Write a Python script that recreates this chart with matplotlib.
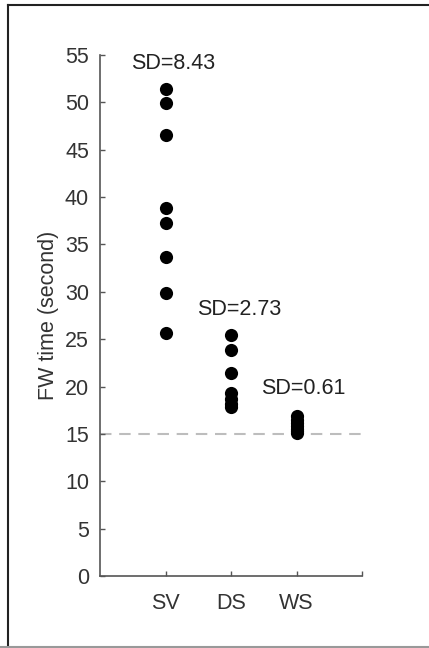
import matplotlib
matplotlib.use("Agg")
import matplotlib.pyplot as plt
from matplotlib.lines import Line2D

plt.rcParams['font.family'] = ['Liberation Sans', 'DejaVu Sans']

# Free-walking time per condition (seconds)
groups = ["SV", "DS", "WS"]
sv_times = [51.4, 49.9, 46.6, 38.9, 37.3, 33.7, 29.9, 25.7]
ds_times = [25.4, 23.9, 21.4, 19.3, 18.7, 18.2, 17.8]
ws_times = [16.9, 16.5, 16.1, 15.8, 15.5, 15.3, 15.1]
sd_labels = ["SD=8.43", "SD=2.73", "SD=0.61"]
reference_time = 15
y_ticks = list(range(0, 60, 5))

W, H = 429, 648
fig = plt.figure(figsize=(W / 100, H / 100), dpi=100)
ax = fig.add_axes([100 / W, (H - 576) / H, 262 / W, 521 / H])

series = [sv_times, ds_times, ws_times]
for i, vals in enumerate(series, start=1):
    ax.scatter([i] * len(vals), vals, s=90, color="black", zorder=3, linewidths=0)

ax.axhline(reference_time, color="#bdbdbd", lw=1.5, dashes=(5.5, 3.7), zorder=1)

# SD annotations above each group
label_pos = [(1.11, 54.1), (2.12, 28.1), (3.11, 19.8)]
for (x, y), txt in zip(label_pos, sd_labels):
    ax.text(x, y, txt, ha="center", va="center", fontsize=15.5, color="#222222")

ax.set_xlim(0, 4)
ax.set_ylim(0, 55)
ax.set_xticks([1, 2, 3, 4])
ax.set_xticklabels(groups + [""])
ax.set_yticks(y_ticks)
ax.tick_params(direction="in", length=3.5, width=1, color="#555555",
               labelsize=15.5, labelcolor="#333333", pad=8)
ax.tick_params(axis="x", pad=12)
for side in ("top", "right"):
    ax.spines[side].set_visible(False)
for side in ("left", "bottom"):
    ax.spines[side].set_color("#555555")
    ax.spines[side].set_linewidth(1.2)
ax.set_ylabel("FW time (second)", fontsize=15.5, color="#333333", labelpad=4)

# Frame around the figure
fig.add_artist(Line2D([7.5 / W, 7.5 / W], [0, 1 - 5 / H], transform=fig.transFigure,
                      color="#222222", lw=1.5))
fig.add_artist(Line2D([7.5 / W, 1], [1 - 5 / H, 1 - 5 / H], transform=fig.transFigure,
                      color="#222222", lw=1.5))
fig.add_artist(Line2D([0, 1], [1.2 / H, 1.2 / H], transform=fig.transFigure,
                      color="#999999", lw=1.5))

fig.savefig("out.png", dpi=100)
